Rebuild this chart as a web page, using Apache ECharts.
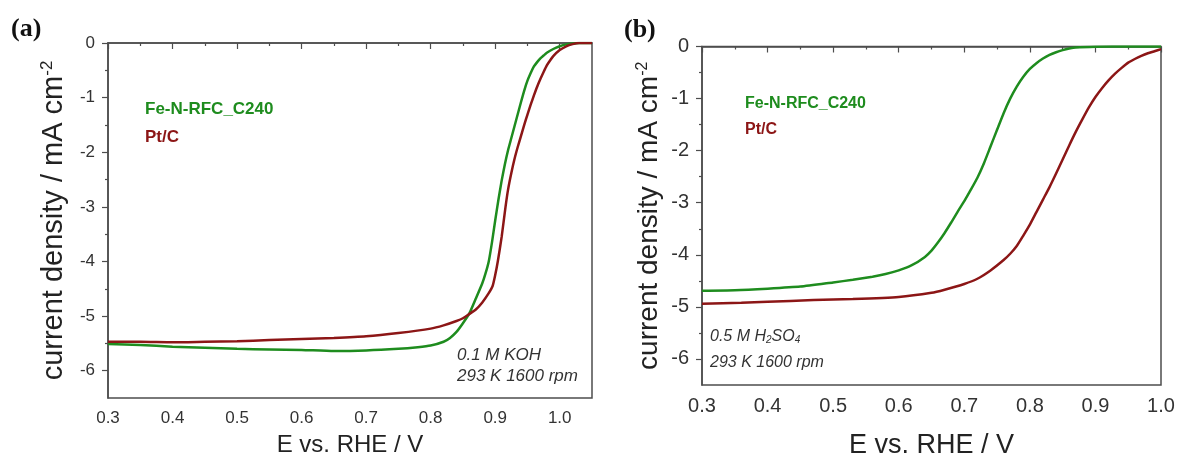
<!DOCTYPE html>
<html>
<head>
<meta charset="utf-8">
<script src="https://cdn.jsdelivr.net/npm/echarts@6/dist/echarts.min.js"></script>
<style>html,body{margin:0;padding:0;background:#fff}#c{width:1181px;height:459px}</style>
</head>
<body>
<div id="c"></div>
<script>
// ---- data (E vs. RHE / V, current density / mA cm-2) ----
const seriesNames = ['Fe-N-RFC_C240', 'Pt/C'];
const xTicksA = [0.3, 0.4, 0.5, 0.6, 0.7, 0.8, 0.9, 1.0];
const xMinorA = [0.35, 0.45, 0.55, 0.65, 0.75, 0.85, 0.95];
const xTicksB = [0.3, 0.4, 0.5, 0.6, 0.7, 0.8, 0.9, 1.0];
const xMinorB = [0.35, 0.45, 0.55, 0.65, 0.75, 0.85, 0.95];
const yTicks = [-6, -5, -4, -3, -2, -1, 0];
const yMinor = [-5.5, -4.5, -3.5, -2.5, -1.5, -0.5];

// panel (a) 0.1 M KOH
const feA = [[0.30,-5.51],[0.35,-5.53],[0.40,-5.56],[0.45,-5.58],[0.50,-5.60],[0.55,-5.61],[0.60,-5.62],[0.65,-5.64],[0.70,-5.63],[0.75,-5.60],[0.78,-5.57],[0.80,-5.54],[0.82,-5.47],[0.83,-5.40],[0.84,-5.29],[0.85,-5.13],[0.86,-4.95],[0.87,-4.68],[0.88,-4.40],[0.885,-4.22],[0.89,-4.00],[0.895,-3.65],[0.90,-3.25],[0.905,-2.87],[0.91,-2.52],[0.915,-2.22],[0.92,-1.96],[0.925,-1.74],[0.93,-1.52],[0.935,-1.30],[0.94,-1.08],[0.945,-0.87],[0.95,-0.69],[0.955,-0.55],[0.96,-0.43],[0.965,-0.35],[0.97,-0.28],[0.975,-0.23],[0.98,-0.18],[0.99,-0.11],[1.00,-0.06],[1.01,-0.025],[1.02,-0.008],[1.03,0],[1.05,0]];
const ptA = [[0.30,-5.47],[0.35,-5.47],[0.40,-5.48],[0.45,-5.47],[0.50,-5.46],[0.55,-5.44],[0.60,-5.42],[0.65,-5.40],[0.70,-5.37],[0.75,-5.31],[0.80,-5.23],[0.82,-5.17],[0.84,-5.09],[0.85,-5.04],[0.86,-4.96],[0.87,-4.88],[0.88,-4.75],[0.89,-4.58],[0.896,-4.45],[0.90,-4.25],[0.904,-4.00],[0.91,-3.55],[0.916,-3.00],[0.92,-2.68],[0.925,-2.38],[0.93,-2.12],[0.935,-1.90],[0.94,-1.70],[0.945,-1.50],[0.95,-1.31],[0.955,-1.13],[0.96,-0.96],[0.965,-0.80],[0.97,-0.66],[0.975,-0.53],[0.98,-0.41],[0.985,-0.32],[0.99,-0.24],[1.00,-0.13],[1.01,-0.06],[1.02,-0.02],[1.03,0],[1.05,0]];

// panel (b) 0.5 M H2SO4
const feB = [[0.30,-4.69],[0.35,-4.68],[0.40,-4.65],[0.45,-4.61],[0.50,-4.53],[0.53,-4.48],[0.56,-4.42],[0.58,-4.37],[0.60,-4.30],[0.62,-4.20],[0.64,-4.04],[0.65,-3.92],[0.66,-3.76],[0.67,-3.58],[0.68,-3.38],[0.69,-3.17],[0.70,-2.97],[0.71,-2.75],[0.72,-2.52],[0.73,-2.24],[0.74,-1.92],[0.75,-1.60],[0.76,-1.28],[0.77,-1.00],[0.78,-0.77],[0.79,-0.58],[0.80,-0.43],[0.81,-0.32],[0.82,-0.23],[0.83,-0.16],[0.84,-0.11],[0.85,-0.07],[0.86,-0.04],[0.87,-0.02],[0.90,-0.005],[0.95,0],[1.00,0]];
const ptB = [[0.30,-4.94],[0.36,-4.92],[0.40,-4.90],[0.47,-4.87],[0.53,-4.85],[0.60,-4.81],[0.65,-4.73],[0.67,-4.67],[0.70,-4.56],[0.72,-4.46],[0.74,-4.30],[0.76,-4.10],[0.77,-3.98],[0.78,-3.83],[0.79,-3.63],[0.80,-3.42],[0.81,-3.18],[0.82,-2.94],[0.83,-2.70],[0.84,-2.44],[0.85,-2.17],[0.86,-1.90],[0.87,-1.64],[0.88,-1.40],[0.89,-1.17],[0.90,-0.97],[0.91,-0.80],[0.92,-0.65],[0.93,-0.52],[0.94,-0.41],[0.95,-0.31],[0.96,-0.24],[0.97,-0.18],[0.98,-0.13],[0.99,-0.09],[1.00,-0.05]];

const GREEN = '#1e8c1e', RED = '#8c1616', AX = '#4d4d4d', TXT = '#333';
const FONT = '"Liberation Sans", Arial, sans-serif';

function xMain(grid, min, max, ticks, fs, nameFs, gap, margin) {
  return { gridIndex: grid, type: 'value', min: min, max: max, interval: 0.05, position: 'bottom',
    axisLine: { show: true, lineStyle: { color: AX, width: 1.5 } },
    axisTick: { show: true, length: 6, customValues: ticks, lineStyle: { color: AX, width: 1.2 } },
    axisLabel: { customValues: ticks, formatter: v => v.toFixed(1), fontSize: fs, color: TXT, fontFamily: FONT, margin: margin },
    splitLine: { show: false },
    name: 'E vs. RHE / V', nameLocation: 'middle', nameGap: gap,
    nameTextStyle: { fontSize: nameFs, color: '#222', fontFamily: FONT } };
}
function xMinorAxis(grid, min, max, minor) {
  return { gridIndex: grid, type: 'value', min: min, max: max, interval: 0.05, position: 'bottom',
    axisLine: { show: false }, axisLabel: { show: false }, splitLine: { show: false },
    axisTick: { show: true, length: 3, customValues: minor, lineStyle: { color: AX, width: 1.2 } } };
}
function yMain(grid, fs, nameFs, gap, supFs) {
  return { gridIndex: grid, type: 'value', min: -6.5, max: 0, interval: 0.5, position: 'left',
    axisLine: { show: true, lineStyle: { color: AX, width: 1.5 } },
    axisTick: { show: true, length: 6, customValues: yTicks, lineStyle: { color: AX, width: 1.2 } },
    axisLabel: { customValues: yTicks, formatter: v => String(v), fontSize: fs, color: TXT, fontFamily: FONT, margin: 13 },
    splitLine: { show: false },
    name: 'current density / mA cm{sup|-2}', nameLocation: 'middle', nameGap: gap, nameRotate: 90,
    nameTextStyle: { fontSize: nameFs, color: '#222', fontFamily: FONT,
      rich: { sup: { fontSize: supFs, verticalAlign: 'top', color: '#222', fontFamily: FONT } } } };
}
function yMinorAxis(grid) {
  return { gridIndex: grid, type: 'value', min: -6.5, max: 0, interval: 0.5, position: 'left',
    axisLine: { show: false }, axisLabel: { show: false }, splitLine: { show: false },
    axisTick: { show: true, length: 3, customValues: yMinor, lineStyle: { color: AX, width: 1.2 } } };
}
function line(name, data, xi, yi, color) {
  return { name: name, type: 'line', data: data, xAxisIndex: xi, yAxisIndex: yi, showSymbol: false,
    smooth: 0.2, lineStyle: { color: color, width: 2.5 }, itemStyle: { color: color }, z: 3 };
}
function txt(x, y, text, font, fill, extra) {
  return Object.assign({ type: 'text', x: x, y: y, silent: true,
    style: Object.assign({ text: text, font: font, fill: fill, align: 'left', verticalAlign: 'middle',
      textAlign: 'left', textVerticalAlign: 'middle' }, extra || {}) });
}

const chart = echarts.init(document.getElementById('c'), null, { renderer: 'canvas' });
chart.setOption({
  animation: false,
  backgroundColor: '#fff',
  grid: [
    { left: 108, top: 43, width: 484, height: 355, show: true, borderColor: AX, borderWidth: 1.5, backgroundColor: 'transparent', containLabel: false, outerBoundsMode: 'none' },
    { left: 702, top: 46.5, width: 459, height: 338.5, show: true, borderColor: AX, borderWidth: 1.5, backgroundColor: 'transparent', containLabel: false, outerBoundsMode: 'none' }
  ],
  xAxis: [
    xMain(0, 0.3, 1.05, xTicksA, 17, 24, 35, 12),
    xMinorAxis(0, 0.3, 1.05, xMinorA),
    xMain(1, 0.3, 1.0, xTicksB, 20, 27, 47, 11),
    xMinorAxis(1, 0.3, 1.0, xMinorB)
  ],
  yAxis: [
    yMain(0, 17, 29, 40, 17),
    yMinorAxis(0),
    yMain(1, 20, 28, 39, 16),
    yMinorAxis(1)
  ],
  series: [
    line(seriesNames[0], feA, 0, 0, GREEN),
    line(seriesNames[1], ptA, 0, 0, RED),
    line(seriesNames[0], feB, 2, 2, GREEN),
    line(seriesNames[1], ptB, 2, 2, RED)
  ],
  graphic: [
    txt(11, 29, '(a)', 'bold 26px "Liberation Serif", serif', '#111'),
    txt(624, 30, '(b)', 'bold 26px "Liberation Serif", serif', '#111'),
    txt(145, 109, seriesNames[0], 'bold 17px ' + FONT, GREEN),
    txt(145, 137, seriesNames[1], 'bold 17px ' + FONT, RED),
    txt(745, 104, seriesNames[0], 'bold 16px ' + FONT, GREEN),
    txt(745, 130, seriesNames[1], 'bold 16px ' + FONT, RED),
    txt(457, 355, '0.1 M KOH', 'italic 17px ' + FONT, TXT),
    txt(457, 376, '293 K 1600 rpm', 'italic 17px ' + FONT, TXT),
    txt(710, 337, '0.5 M H{sub|2}SO{sub|4}', 'italic 16px ' + FONT, TXT,
      { rich: { sub: { fontSize: 10, fontStyle: 'italic', verticalAlign: 'bottom', fill: TXT, fontFamily: FONT } } }),
    txt(710, 363, '293 K 1600 rpm', 'italic 16px ' + FONT, TXT)
  ]
});
</script>
</body>
</html>
